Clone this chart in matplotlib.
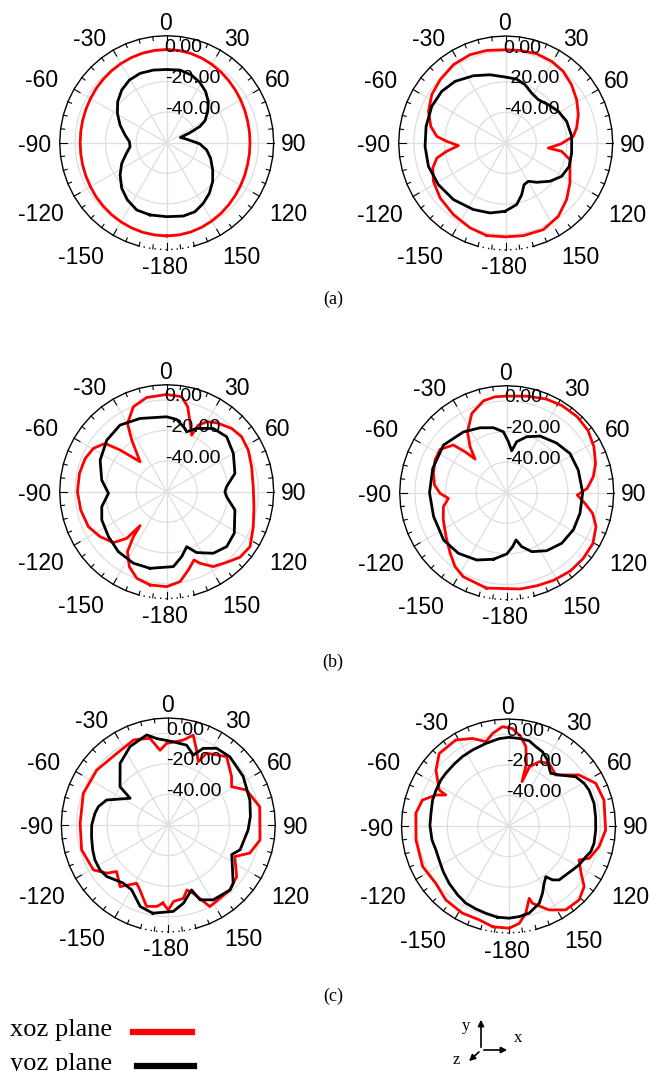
import numpy as np
import matplotlib
matplotlib.use('Agg')
import matplotlib.pyplot as plt
from matplotlib.lines import Line2D
from matplotlib.patches import FancyArrowPatch

# radiation patterns, angle in degrees (clockwise from +y) and gain in dB
a_xoz_ang = [-180, -172.5, -165, -157.5, -150, -142.5, -135, -127.5, -120, -112.5, -105, -97.5,
             -90, -82.5, -75, -67.5, -60, -52.5, -45, -37.5, -30, -22.5, -15, -7.5,
             0, 7.5, 15, 22.5, 30, 37.5, 45, 52.5, 60, 67.5, 75, 82.5,
             90, 97.5, 105, 112.5, 120, 127.5, 135, 142.5, 150, 157.5, 165, 172.5]
a_xoz_db = [1.0, 0.9, 0.7, 0.3, -0.2, -0.7, -1.3, -1.8, -2.4, -2.8, -3.1, -3.3,
            -3.4, -3.3, -3.1, -2.8, -2.4, -1.8, -1.3, -0.7, -0.2, 0.3, 0.7, 0.9,
            1.0, 0.9, 0.5, -0.1, -0.9, -1.7, -2.6, -3.4, -4.1, -4.7, -5.2, -5.4,
            -5.5, -5.4, -5.2, -4.7, -4.1, -3.4, -2.6, -1.7, -0.9, -0.1, 0.5, 0.9]
a_yoz_ang = [-167, -156, -145.5, -135.4, -124.7, -114.7, -105.6, -96.2, -88.5, -79.6, -69.3,
             -59.3, -50.1, -40.5, -30.8, -21, -10.4, 0, 10.4, 20.3, 29.1, 37.4, 45.5, 52.9,
             60.1, 64, 67, 69, 77.7, 84.3, 88.7, 92.3, 100.4, 109.6, 120.7, 130.3, 139.9,
             148.9, 157.7, 167.2, 180]
a_yoz_db = [-11.5, -11.8, -14.6, -18.1, -22.9, -27.6, -32.4, -35.9, -35.6, -32.3, -27.4,
            -22.5, -18.2, -14.7, -12.3, -11.4, -11.7, -12.1, -11.7, -12.9, -15.1, -18.0, -21.8, -26.4,
            -31.1, -35.9, -44.0, -50.4, -47.7, -44.7, -41.5, -38.2, -33.4, -29.5, -25.0, -20.6, -16.7,
            -13.7, -11.2, -10.8, -11.6]

a2_xoz_ang = [-168.4, -157.2, -143.9, -130, -117.9, -108.9, -102.3, -98, -93.2, -88.4, -84.5,
              -77.5, -67.7, -56.8, -46, -33.7, -22, -11.6, 0, 8.8, 19.1, 29.4, 38.8, 48.5,
              58.6, 68.7, 78.1, 84.4, 91, 96.7, 98.5, 104.5, 112.5, 121.9, 132.9, 144.3,
              156.5, 169.2, 180]
a2_xoz_db = [1.8, 0.2, -2.0, -4.0, -6.5, -9.6, -13.9, -21.0, -29.0, -21.4, -14.7,
             -9.8, -5.4, -2.2, -0.4, 1.6, 2.3, 1.8, 1.0, 1.3, 1.8, 1.3, 0.1, -2.5,
             -5.6, -9.0, -12.6, -15.6, -24.0, -31.9, -23.0, -16.6, -14.5, -10.5, -5.6, -1.0,
             1.8, 1.7, 1.4]
a2_yoz_ang = [-179.4, -167.4, -154.1, -137.3, -121.7, -106.8, -92.4, -78.2, -63.6, -51.1,
              -39.4, -25.6, -12.9, 0, 9.8, 18.3, 27.5, 37, 48.1, 59, 70.4, 84.2, 98.6,
              110.1, 120.8, 130.8, 141.8, 149.4, 156.3, 162.8, 169.9]
a2_yoz_db = [-15.3, -13.1, -11.6, -9.6, -8.2, -7.2, -7.2, -6.8, -6.0, -6.2,
             -7.8, -11.2, -14.2, -16.9, -17.6, -19.8, -23.2, -24.5, -22.5, -19.8, -17.7, -16.6, -16.4,
             -15.7, -17.4, -21.7, -27.3, -30.9, -30.2, -24.6, -19.1]

b_xoz_ang = [-169.9, -160.9, -153.5, -146.8, -143.5, -141.9, -139.4, -133.7, -124, -114.1,
             -102, -90, -78.1, -67.8, -59.4, -51.9, -48.2, -41.6, -34.1, -29.9, -21.4, -12,
             0, 9, 13.9, 18.4, 23.8, 25.4, 29.7, 35.9, 45.7, 53.7, 63, 73.6, 86.7, 99.7,
             112, 123.4, 131.8, 139.7, 148.1, 155.1, 158.2, 164.5, 171.6, 180]
b_xoz_db = [2.0, -0.1, -5.2, -13.1, -23.4, -31.8, -19.8, -11.8, -7.4, -3.9,
            -2.5, -1.6, -1.7, -2.4, -4.3, -8.8, -19.1, -33.8, -19.2, -8.5, -0.3, 3.0,
            3.6, 2.9, -2.8, -11.8, -19.5, -11.8, -7.3, -4.3, -0.7, 0.8, -0.1, -2.1, -3.3, -2.1,
            1.1, 5.3, 4.3, 0.6, -2.3, -8.4, -11.9, -6.9, -0.5, 2.1]
b_yoz_ang = [-167.7, -155, -141.1, -127.6, -113.5, -103, -91.6, -79.8, -64.6, -49.3, -35,
             -20, 0, 7.9, 16.1, 18.4, 25.3, 36.4, 47.5, 60.1, 75, 85.2, 90, 94.8, 105,
             121.6, 132.5, 142.9, 153.8, 160, 167, 174.9]
b_yoz_db = [-8.7, -8.4, -9.6, -11.9, -13.7, -16.4, -21.9, -16.8, -11.8, -8.3, -6.8,
            -9.0, -11.0, -12.3, -16.9, -18.7, -14.2, -8.6, -6.8, -9.7, -13.8, -20.7, -21.9, -20.7, -13.8,
            -8.1, -6.8, -9.5, -15.6, -21.7, -16.4, -10.8]

b2_xoz_ang = [-168, -152.7, -145.1, -137, -125.9, -113, -102.5, -95.5, -90.6, -83.9, -75.2,
              -65.5, -57, -48.2, -45.5, -43.2, -38.6, -32.8, -23.8, -14.2, -6.9, 0, 11.7,
              22.8, 32.4, 42.7, 52.5, 62.2, 71.8, 79.5, 86.9, 91.9, 97.8, 103.5, 110.8,
              120.6, 130.9, 141, 152, 162, 172]
b2_xoz_db = [3.8, 1.9, -1.0, -5.8, -11.0, -14.9, -17.6, -21.7, -16.4, -12.5, -10.4,
             -8.5, -8.0, -13.2, -21.8, -29.8, -21.6, -12.6, -3.4, 2.0, 3.2, 3.2, 4.5,
             6.5, 7.5, 7.8, 7.0, 4.5, 1.2, -2.4, -7.2, -13.8, -8.3, -2.2, 2.5,
             5.5, 6.0, 6.0, 5.0, 4.0, 3.6]
b2_yoz_ang = [-168.7, -156, -141.5, -127, -108, -90, -71.8, -53, -35.4, -22.3, -11.6, -3.1,
              1.9, 6.8, 11.1, 19.7, 30.5, 45, 58.2, 72.4, 90, 105.7, 119, 132.6, 145.4, 157,
              164.5, 168.8, 173.7, 180]
b2_yoz_db = [-15.6, -11.8, -9.3, -8.4, -9.7, -9.5, -9.1, -8.2, -11.2, -14.1, -16.6, -20.1,
             -26.6, -32.4, -26.0, -21.1, -17.0, -14.0, -11.3, -10.9, -10.3, -10.2, -10.1, -11.1, -13.9, -18.1,
             -23.4, -28.5, -24.5, -19.9]

c_xoz_ang = [-176, -172, -165, -156.4, -151.5, -142, -132, -128, -121, -106, -89, -69.6, -52.5,
             -35.8, -22, -12, -6.3, -1.2, 10, 15.5, 20.7, 25.3, 28, 40.5, 52.6, 58.8, 65.9, 78.7,
             99.3, 109, 115.4, 127, 136.5, 153, 160, 164, 168.4, 176, 180]
c_xoz_db = [-8.8, -6.2, -4.9, -13.6, -16.6, -8.8, -14.5, -8.8, -2.9, -1.0, -2.3, -0.7, -1.0,
            -2.3, 0.1, -2.0, -10.8, -6.6, -3.6, 1.0, -7.7, -14.2, -6.8, -1.2, -7.9, -11.6, -4.0, 1.0,
            0.8, -3.6, -11.9, -4.0, -1.4, -0.1, -12.5, -15.8, -11.0, -9.9, -4.4]
c_yoz_ang = [-170, -161, -150.6, -142, -130, -123.4, -115.5, -108.3, -98.7, -90, -81, -75.3,
             -68, -55, -51.6, -38, -26, -13.5, -7.7, 3.4, 12.9, 19.7, 24.5, 32.2, 42, 57, 73,
             84, 93.6, 109, 115, 125, 132, 136.5, 149, 157, 160.3, 169, 176.7]
c_yoz_db = [-1.4, -3.6, -11.2, -11.9, -7.5, -6.5, -6.8, -7.9, -9.2, -9.9, -11.4, -12.7,
            -16.4, -29.5, -19.7, -8.8, -2.9, 0.6, -2.9, -5.5, -6.4, -11.4, -4.9, -0.7, 0.1, -1.6, -4.2,
            -6.0, -7.7, -10.3, -14.2, -8.7, -2.9, -1.4, -2.9, -6.8, -14.9, -7.9, -3.4]

c2_xoz_ang = [-171, -162.7, -152, -139.7, -128.3, -115.3, -98.6, -82.2, -73.2, -66.9, -63.7,
              -62.6, -52.4, -43.7, -31.5, -22.3, -15, -9.8, -3.5, 2.3, 7.9, 12.3, 16, 17, 19.5,
              25.5, 33, 42.9, 54, 64, 74.8, 92.4, 102.8, 111.8, 115.7, 122.3, 128.7, 136.3,
              145.7, 154.2, 162.8, 164, 168.8, 173.7, 179.6]
c2_xoz_db = [6.7, 4.3, 4.5, 3.4, 0.6, 2.1, 1.2, 1.2, -1.2, -8.4, -14.2,
             -9.0, -0.1, 5.6, 6.0, 1.9, -2.9, 1.4, 5.1, 3.8, -1.0, -6.8, -17.3, -29.7, -19.0,
             -13.4, -11.2, -14.5, -3.1, 3.6, 4.7, 3.6, 0.8, -3.1, -8.8, -4.0, 3.4, 6.9,
             6.4, 1.0, -7.1, -10.8, -1.8, 4.1, 6.9]
c2_yoz_ang = [-173.1, -165.5, -158.5, -151, -143.5, -134, -124.9, -116, -108.3, -100.3, -89.5,
              -80.7, -71.1, -63.6, -55.8, -50, -41.2, -33.6, -25.3, -15.3, -6, 0.4, 7, 13.6,
              19, 24.6, 30.6, 36.4, 38.8, 44.8, 53.8, 60.6, 66, 75.2, 83.9, 92.6, 101.4,
              107.3, 111.6, 118.9, 124.5, 130.5, 136.8, 140.8, 143.6, 148.1, 153.2, 158.4,
              166.7, 173.3, 179.6]
c2_yoz_db = [0.1, -1.0, -1.7, -2.3, -4.0, -6.0, -7.9, -9.5, -10.0, -9.1, -8.6,
             -8.6, -7.5, -7.1, -6.5, -6.4, -6.1, -5.5, -5.0, -4.0, -2.5, -2.0, -2.3, -2.6,
             -5.1, -6.6, -9.9, -14.5, -15.8, -12.9, -5.5, -3.2, -2.3, -2.1, -2.7, -2.9, -2.9,
             -3.6, -5.5, -7.3, -9.2, -10.7, -11.6, -14.5, -18.8, -15.9, -10.7, -5.5,
             -1.4, -0.3, 0.3]

ring_values = [-40, -20, 0]
angle_labels = ['0', '30', '60', '90', '120', '150', '-180', '-150', '-120', '-90', '-60', '-30']
captions = ['(a)', '(b)', '(c)']
legend_labels = ['xoz plane', 'yoz plane']

R_MIN, R_MAX = -60, 10
W, H = 651, 1071
RAD = 107  # plot radius in pixels

# label offsets from the plot centre, in pixels (x right, y down)
label_offsets = [(-1, -119), (70, -103), (111, -62), (127, 2), (122, 72), (75, 115),
                 (-2, 125), (-86, 115), (-126, 72), (-132, 3), (-125, -62), (-77, -103)]

SANS = 'Liberation Sans'
SERIF = 'Liberation Serif'

fig = plt.figure(figsize=(W / 100, H / 100), dpi=100)


def closed(ang, db):
    a = np.deg2rad(np.append(ang, ang[0] + 360))
    return a, np.append(db, db[0])


def panel(cx, cy, xoz, yoz):
    ax = fig.add_axes([(cx - RAD) / W, 1 - (cy + RAD) / H, 2 * RAD / W, 2 * RAD / H],
                      projection='polar')
    ax.set_theta_zero_location('N')
    ax.set_theta_direction(-1)
    ax.set_ylim(R_MIN, R_MAX)
    ax.axis('off')

    # grid rings and spokes
    t = np.linspace(0, 2 * np.pi, 361)
    for v in ring_values:
        ax.plot(t, np.full_like(t, v), color='#dedede', lw=0.9, zorder=1)
    for a in range(0, 360, 30):
        ax.plot([np.deg2rad(a)] * 2, [R_MIN, R_MAX], color='#dedede', lw=0.9, zorder=1)

    # outer frame, polygonal with a dotted stretch at the bottom
    solid = np.deg2rad(np.arange(-165, 165.1, 7.5))
    ax.plot(solid, np.full_like(solid, R_MAX), color='k', lw=1.0, clip_on=False, zorder=2)
    dots = np.deg2rad(np.arange(165, 195.1, 7.5))
    ax.plot(dots, np.full_like(dots, R_MAX), color='k', lw=1.0, ls=(0, (1, 3)),
            clip_on=False, zorder=2)
    for a in np.arange(0, 360, 7.5):
        ln = 4.5 if a % 30 == 0 else 2.6
        ax.plot([np.deg2rad(a)] * 2, [R_MAX - ln, R_MAX], color='k', lw=0.8,
                clip_on=False, zorder=2)

    # patterns
    ax.plot(*closed(*xoz), color='#ff0000', lw=2.0, zorder=3)
    ax.plot(*closed(*yoz), color='black', lw=2.0, zorder=3)

    # radial labels
    for v in ring_values:
        ax.annotate(f'{v:.2f}', xy=(0, v), xycoords='data', xytext=(-2, 3),
                    textcoords='offset pixels', ha='left', va='center',
                    fontsize=14, family=SANS, zorder=5)

    # angle labels
    for lbl, (dx, dy) in zip(angle_labels, label_offsets):
        ax.annotate(lbl, xy=(0.5, 0.5), xycoords='axes fraction', xytext=(dx, -dy),
                    textcoords='offset pixels', ha='center', va='center',
                    fontsize=16.5, family=SANS, annotation_clip=False)
    return ax


panel(166.7, 142.7, (a_xoz_ang, a_xoz_db), (a_yoz_ang, a_yoz_db))
panel(505.7, 143.0, (a2_xoz_ang, a2_xoz_db), (a2_yoz_ang, a2_yoz_db))
panel(166.7, 491.7, (b_xoz_ang, b_xoz_db), (b_yoz_ang, b_yoz_db))
panel(506.7, 492.7, (b2_xoz_ang, b2_xoz_db), (b2_yoz_ang, b2_yoz_db))
panel(168.3, 825.0, (c_xoz_ang, c_xoz_db), (c_yoz_ang, c_yoz_db))
panel(508.5, 826.0, (c2_xoz_ang, c2_xoz_db), (c2_yoz_ang, c2_yoz_db))

for cap, y in zip(captions, [299, 662, 996]):
    fig.text(333 / W, 1 - y / H, cap, ha='center', va='center', fontsize=13, family=SERIF)

# legend
for lbl, col, y, x0, x1 in zip(legend_labels, ['#ff0000', 'black'], [1030, 1064],
                               [133, 137], [192, 194]):
    fig.text(10 / W, 1 - y / H, lbl, ha='left', va='center', fontsize=19, family=SERIF)
    fig.add_artist(Line2D([x0 / W, x1 / W], [1 - (y + 2) / H] * 2, color=col, lw=4.5))

# coordinate system icon
o = (481 / W, 1 - 1050 / H)
for tip in [(481 / W, 1 - 1017 / H), (510 / W, 1 - 1050 / H), (467 / W, 1 - 1063 / H)]:
    fig.add_artist(FancyArrowPatch(o, tip, transform=fig.transFigure, arrowstyle='-|>',
                                   mutation_scale=9, lw=1.2, color='black'))
for s, x, y in [('y', 466, 1026), ('x', 518, 1038), ('z', 456, 1060)]:
    fig.text(x / W, 1 - y / H, s, ha='center', va='center', fontsize=12, family=SERIF)

fig.savefig('out.png', dpi=100)
